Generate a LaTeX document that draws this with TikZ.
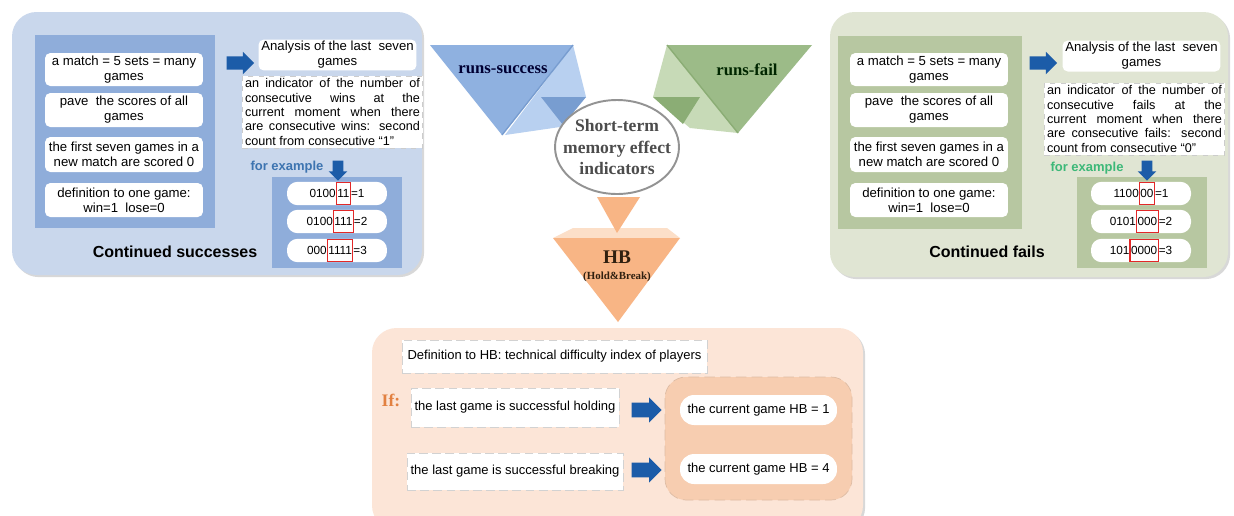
\documentclass[tikz,border=0pt]{standalone}
\usepackage{fontspec}
\setmainfont{Liberation Sans}
\newfontfamily\titlefont{Liberation Serif}
\usetikzlibrary{shapes.geometric,shapes.arrows,shadows,positioning}

\definecolor{panelblue}{RGB}{201,215,236}
\definecolor{innerblue}{RGB}{143,173,218}
\definecolor{panelgreen}{RGB}{224,229,211}
\definecolor{innergreen}{RGB}{183,199,161}
\definecolor{panelpeach}{RGB}{252,229,215}
\definecolor{innerpeach}{RGB}{247,205,176}
\definecolor{peachedge}{RGB}{222,188,164}
\definecolor{arrowblue}{RGB}{28,92,168}
\definecolor{boxred}{RGB}{226,40,40}
\definecolor{triblue}{RGB}{143,177,224}
\definecolor{triblueL}{RGB}{184,208,240}
\definecolor{triblueM}{RGB}{120,157,208}
\definecolor{trigreen}{RGB}{156,187,136}
\definecolor{trigreenL}{RGB}{199,218,183}
\definecolor{trigreenM}{RGB}{139,173,117}
\definecolor{triorange}{RGB}{248,181,133}
\definecolor{triorangeL}{RGB}{252,223,200}
\definecolor{exblue}{RGB}{61,116,176}
\definecolor{exgreen}{RGB}{60,184,120}
\definecolor{ifcolor}{RGB}{226,128,64}

\newcommand\cardfont{\fontsize{7.5}{8.6}\selectfont}
\newcommand\notefont{\fontsize{7.2}{8.2}\selectfont}
\newcommand\hbfont{\fontsize{7.4}{8}\selectfont}
\newcommand\pillfont{\fontsize{6.7}{7.5}\selectfont}
\newcommand\redbox[1]{{\setlength\fboxsep{0.3pt}\setlength\fboxrule{0.6pt}%
  \fcolorbox{boxred}{white}{\rule[-3.6pt]{0pt}{11.5pt}#1}}}

\begin{document}
\begin{tikzpicture}[x=0.02cm,y=-0.02cm,
  panel/.style={rounded corners=14pt,
    drop shadow={shadow xshift=1.2pt,shadow yshift=-1.2pt,opacity=0.3}},
  card/.style={fill=white,rounded corners=3pt,inner sep=1pt,align=center,font=\cardfont,
    minimum width=3.16cm},
  note/.style={fill=white,draw=gray!40,dashed,inner sep=1.5pt,align=justify,font=\notefont,
    text width=3.5cm},
  pill/.style={fill=white,rounded corners=6pt,minimum width=2cm,minimum height=0.46cm,
    inner sep=0pt,font=\pillfont},
  bigarrow/.style={single arrow,fill=arrowblue,single arrow head extend=2.6pt,
    minimum height=0.55cm,inner xsep=0pt,inner ysep=3.6pt},
  smallarrow/.style={single arrow,fill=arrowblue,single arrow head extend=2.3pt,
    minimum height=0.4cm,inner xsep=0pt,inner ysep=2.8pt,rotate=-90},
  hbarrow/.style={single arrow,fill=arrowblue,single arrow head extend=3pt,
    minimum height=0.6cm,inner xsep=0pt,inner ysep=4pt},
  dashbox/.style={fill=white,draw=gray!35,dash pattern=on 5pt off 2.5pt,inner sep=2pt,font=\hbfont},
  hbpill/.style={fill=white,rounded corners=8pt,minimum width=3.14cm,minimum height=0.6cm,
    inner sep=0pt,font=\hbfont},
  tritext/.style={font=\titlefont\bfseries\fontsize{9.5}{10}\selectfont},
  sumtext/.style={font=\bfseries\fontsize{9.1}{10}\selectfont}]

\useasboundingbox (0,0) rectangle (1234,515);
\clip (0,0) rectangle (1234,515);
\fill[white] (0,0) rectangle (1234,515);

% left panel: continued successes
\fill[panelblue,panel] (12,12) rectangle (422,275);
\fill[innerblue] (35,35) rectangle (215,228);
\fill[innerblue] (272,177) rectangle (402,268);
\node[card,minimum height=0.66cm] (ls1) at (124,69.5) {a match = 5 sets = many\\games};
\node[card,minimum height=0.68cm] (ls2) at (124,110) {pave\ \ the scores of all\\games};
\node[card,minimum height=0.7cm] (ls3) at (124,154.5) {the first seven games in a\\new match are scored 0};
\node[card,minimum height=0.68cm] (ls4) at (124,200) {definition to one game:\\win=1\ \ lose=0};
\node[bigarrow] (lar) at (237,63) {};
\node[card,minimum height=0.6cm] (la) at (337.5,55) {Analysis of the last\ \ seven\\games};
\node[note] (li) at (332.5,112) {an indicator of the number of\linebreak
  consecutive wins at the\linebreak current moment when there\linebreak
  are consecutive wins: second\linebreak count from consecutive ``1''};
\node[font=\bfseries\fontsize{7.4}{8}\selectfont,text=exblue] (lfe) at (287,167) {for example};
\node[smallarrow] (ldn) at (338,168) {};
\node[pill] (lp1) at (337,193.5) {0100\redbox{11}=1};
\node[pill] (lp2) at (337,221.5) {0100\redbox{111}=2};
\node[pill] (lp3) at (337,250.5) {000\redbox{1111}=3};
\node[sumtext] (lcs) at (175,252) {Continued successes};

% right panel: continued fails
\fill[panelgreen,panel] (830,12) rectangle (1228,277);
\fill[innergreen] (838,36) rectangle (1022,229);
\fill[innergreen] (1077,177) rectangle (1207,268);
\node[card,minimum height=0.66cm] (rs1) at (929,69.5) {a match = 5 sets = many\\games};
\node[card,minimum height=0.68cm] (rs2) at (929,110) {pave\ \ the scores of all\\games};
\node[card,minimum height=0.7cm] (rs3) at (929,154.5) {the first seven games in a\\new match are scored 0};
\node[card,minimum height=0.68cm] (rs4) at (929,200) {definition to one game:\\win=1\ \ lose=0};
\node[bigarrow] (rar) at (1040,63) {};
\node[card,minimum height=0.62cm] (ra) at (1141.5,56) {Analysis of the last\ \ seven\\games};
\node[note] (ri) at (1134.5,119) {an indicator of the number of\linebreak
  consecutive fails at the\linebreak current moment when there\linebreak
  are consecutive fails: second\linebreak count from consecutive ``0''};
\node[font=\bfseries\fontsize{7.4}{8}\selectfont,text=exgreen] (rfe) at (1087,168) {for example};
\node[smallarrow] (rdn) at (1147,168) {};
\node[pill] (rp1) at (1141,193.5) {1100\redbox{00}=1};
\node[pill] (rp2) at (1141,221.5) {0101\redbox{000}=2};
\node[pill] (rp3) at (1141,250.5) {101\redbox{0000}=3};
\node[sumtext] (rcs) at (987,252) {Continued fails};

% centre triangles
\fill[triblueL] (573,45) -- (586,97) -- (560,127) -- (505,135) -- cycle;
\fill[triblue] (430,45) -- (573,45) -- (502,135) -- cycle;
\draw[triblueM,line width=0.8pt] (573,45) -- (502,135);
\fill[triblueM] (541,97) -- (586,97) -- (563,125) -- cycle;
\fill[trigreenL] (667,45) -- (653,97) -- (690,128) -- (738,133) -- cycle;
\fill[trigreen] (667,45) -- (812,45) -- (738,133) -- cycle;
\draw[trigreenM,line width=0.8pt] (667,45) -- (738,133);
\fill[trigreenM] (653,97) -- (700,97) -- (683,124) -- cycle;
\fill[triorangeL] (573,228) -- (667,228) -- (680,238) -- (553,238) -- cycle;
\fill[triorange] (597,197) -- (640,197) -- (617,233) -- cycle;
\fill[triorange] (553,238) -- (680,238) -- (618,322) -- cycle;
\node[tritext,text=black!80!blue] (rs) at (503,70) {runs-success};
\node[tritext,text=black!85!green] (rf) at (747,70) {runs-fail};
\node[ellipse,draw=gray!85,line width=1.1pt,fill=white,minimum width=2.48cm,minimum height=1.88cm,
  inner xsep=-8pt,inner ysep=0pt,align=center,text=black!70,
  font=\titlefont\bfseries\fontsize{10}{12.5}\selectfont]
  (stm) at (617,147) {Short-term\\memory effect\\indicators};
\node[font=\titlefont\bfseries\fontsize{11}{12}\selectfont,text=black!75!brown] (hb) at (617,257) {HB};
\node[font=\titlefont\bfseries\fontsize{6.2}{7}\selectfont,text=black!75!brown,below=-2pt of hb] (hbsub) {(Hold\&Break)};

% bottom panel: HB
\fill[panelpeach,panel] (372,328) rectangle (863,530);
\filldraw[fill=innerpeach,draw=peachedge,dash pattern=on 6pt off 3pt,rounded corners=12pt] (665,377) rectangle (852,500);
\node[dashbox,minimum width=6.1cm,minimum height=0.66cm] (hbdef) at (554.5,356.5) {Definition to HB: technical difficulty index of players};
\node[font=\titlefont\bfseries\fontsize{10}{11}\selectfont,text=ifcolor] (iflabel) at (391,400) {If:};
\node[dashbox,minimum width=4.12cm,minimum height=0.78cm] (hold) at (515,407.5) {the last game is successful holding};
\node[dashbox,minimum width=4.32cm,minimum height=0.74cm] (brk) at (515,471.5) {the last game is successful breaking};
\node[hbarrow] (har) at (643,410) {};
\node[hbarrow] (bar) at (643,470) {};
\node[hbpill] (hbone) at (758.5,410) {the current game HB = 1};
\node[hbpill] (hbfour) at (758.5,469) {the current game HB = 4};
\end{tikzpicture}
\end{document}
